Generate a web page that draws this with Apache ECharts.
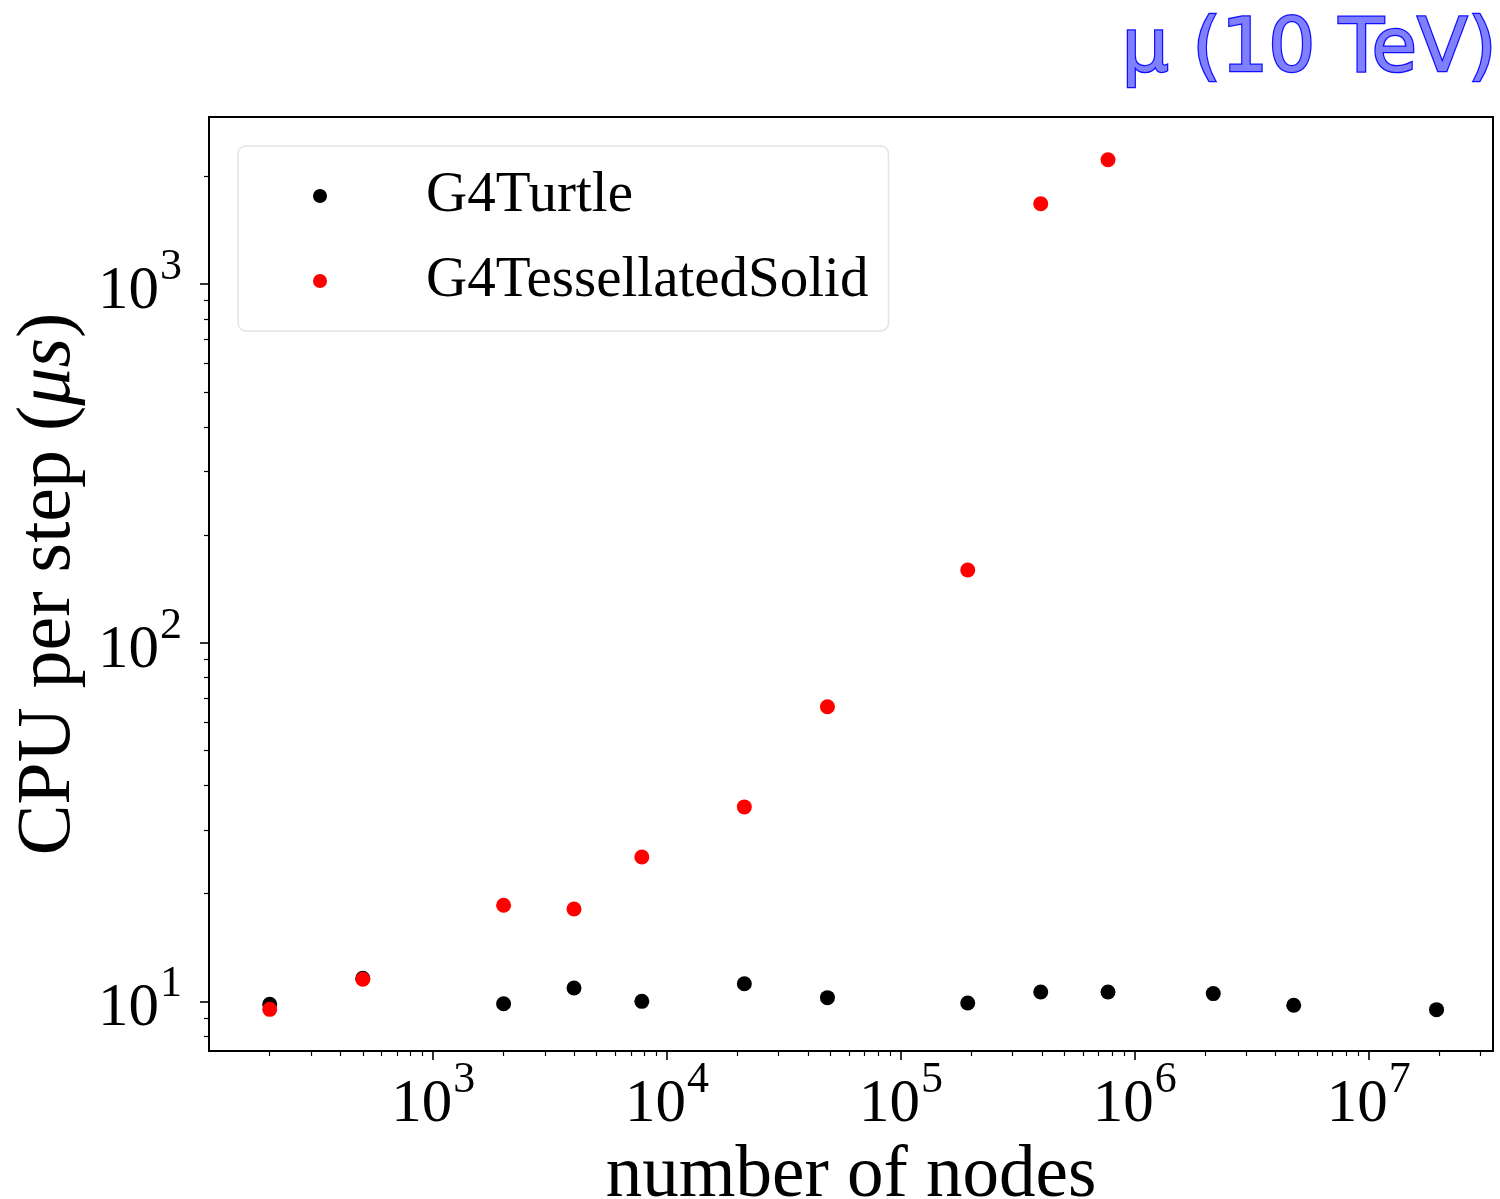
<!DOCTYPE html>
<html>
<head>
<meta charset="utf-8">
<script src="https://cdn.jsdelivr.net/npm/echarts@6/dist/echarts.min.js"></script>
<style>
  html, body { margin: 0; padding: 0; background: #fff; }
  #chart { width: 1500px; height: 1199px; }
</style>
</head>
<body>
<div id="chart"></div>
<script>
// Number of nodes in the geometry
const nodes = [200, 500, 2000, 4000, 7800, 21400, 48500, 193000, 396000, 768000, 2165000, 4780000, 19500000];
// CPU time per step (µs)
const turtleCpu = [9.81, 11.59, 9.85, 10.89, 10.0, 11.20, 10.24, 9.89, 10.62, 10.62, 10.51, 9.75, 9.48];
const tessNodes = [200, 500, 2000, 4000, 7800, 21400, 48500, 193000, 396000, 768000];
const tessCpu = [9.50, 11.52, 18.53, 18.10, 25.27, 34.85, 66.27, 159.5, 1675, 2223];

const seriesNames = ['G4Turtle', 'G4TessellatedSolid'];
const xMajorTicks = [1e3, 1e4, 1e5, 1e6, 1e7];
const yMajorTicks = [1e1, 1e2, 1e3];
const X_MIN = 110, X_MAX = 3.4e7;
const Y_MIN = 7.27, Y_MAX = 2924;

// minor ticks at 2..9 x 10^k inside the axis range
function minorTicks(lo, hi) {
  const out = [];
  for (let e = Math.floor(Math.log10(lo)); e <= Math.ceil(Math.log10(hi)); e++) {
    for (let m = 2; m <= 9; m++) {
      const v = m * Math.pow(10, e);
      if (v >= lo && v <= hi) out.push(v);
    }
  }
  return out;
}
const xMinorTicks = minorTicks(X_MIN, X_MAX);
const yMinorTicks = minorTicks(Y_MIN, Y_MAX);

const SERIF = '"Liberation Serif", "DejaVu Serif", serif';

function powLabel(v) {
  const e = Math.round(Math.log10(v));
  return '{b|10}{s|' + e + '}';
}
const powRich = {
  b: { fontFamily: SERIF, fontSize: 61, color: '#000', padding: [16, 0, 0, 0] },
  s: { fontFamily: SERIF, fontSize: 44, color: '#000', verticalAlign: 'top', padding: [0, 0, 0, 1] }
};

const majorTickStyle = { show: true, inside: false, length: 9, lineStyle: { color: '#000', width: 1.6 } };
const minorTickStyle = { show: true, inside: false, length: 5, lineStyle: { color: '#000', width: 1.2 } };

const chart = echarts.init(document.getElementById('chart'), null, { renderer: 'canvas' });

chart.setOption({
  animation: false,
  backgroundColor: '#fff',
  title: {
    text: 'μ (10 TeV)',
    right: -4,
    top: 10,
    textStyle: {
      fontFamily: '"DejaVu Sans", sans-serif',
      fontSize: 74,
      fontWeight: 'normal',
      color: '#8080ff',
      textBorderColor: '#1010ff',
      textBorderWidth: 2.5
    }
  },
  grid: {
    left: 209, right: 7, top: 117, bottom: 148,
    outerBoundsMode: 'none',
    containLabel: false,
    show: true, borderColor: '#000', borderWidth: 2, backgroundColor: 'transparent'
  },
  legend: {
    orient: 'vertical',
    left: 238,
    top: 146,
    padding: [20, 20, 20, 75],
    itemGap: 25,
    itemWidth: 14,
    itemHeight: 14,
    icon: 'circle',
    backgroundColor: '#fff',
    borderColor: '#e3e3e3',
    borderWidth: 1.5,
    borderRadius: 8,
    data: seriesNames,
    textStyle: {
      fontFamily: SERIF,
      fontSize: 57,
      color: '#000',
      lineHeight: 60,
      padding: [0, 0, 0, 94]
    }
  },
  xAxis: [
    {
      type: 'log', logBase: 10, min: X_MIN, max: X_MAX,
      position: 'bottom',
      axisLine: { show: false },
      splitLine: { show: false },
      axisTick: Object.assign({ customValues: xMajorTicks }, majorTickStyle),
      axisLabel: {
        customValues: xMajorTicks,
        margin: 7,
        formatter: powLabel,
        rich: powRich
      },
      name: 'number of nodes',
      nameLocation: 'middle',
      nameGap: 86,
      nameTextStyle: { fontFamily: SERIF, fontSize: 73, color: '#000' }
    },
    {
      type: 'log', logBase: 10, min: X_MIN, max: X_MAX,
      position: 'bottom',
      axisLine: { show: false },
      splitLine: { show: false },
      axisTick: Object.assign({ customValues: xMinorTicks }, minorTickStyle),
      axisLabel: { show: false }
    }
  ],
  yAxis: [
    {
      type: 'log', logBase: 10, min: Y_MIN, max: Y_MAX,
      position: 'left',
      axisLine: { show: false },
      splitLine: { show: false },
      axisTick: Object.assign({ customValues: yMajorTicks }, majorTickStyle),
      axisLabel: {
        customValues: yMajorTicks,
        margin: 27,
        formatter: powLabel,
        rich: powRich
      },
      name: '{n|CPU per step (}{i|μs}{n|)}',
      nameLocation: 'middle',
      nameGap: 118,
      nameTextStyle: {
        rich: {
          n: { fontFamily: SERIF, fontSize: 76, color: '#000' },
          i: { fontFamily: SERIF, fontSize: 76, fontStyle: 'italic', color: '#000' }
        }
      }
    },
    {
      type: 'log', logBase: 10, min: Y_MIN, max: Y_MAX,
      position: 'left',
      axisLine: { show: false },
      splitLine: { show: false },
      axisTick: Object.assign({ customValues: yMinorTicks }, minorTickStyle),
      axisLabel: { show: false }
    }
  ],
  series: [
    {
      name: seriesNames[0],
      type: 'scatter',
      xAxisIndex: 0, yAxisIndex: 0,
      symbol: 'circle',
      symbolSize: 15,
      itemStyle: { color: '#000', opacity: 1 },
      data: nodes.map((n, i) => [n, turtleCpu[i]])
    },
    {
      name: seriesNames[1],
      type: 'scatter',
      xAxisIndex: 0, yAxisIndex: 0,
      symbol: 'circle',
      symbolSize: 15,
      itemStyle: { color: '#ff0000', opacity: 1 },
      data: tessNodes.map((n, i) => [n, tessCpu[i]])
    }
  ]
});
</script>
</body>
</html>
